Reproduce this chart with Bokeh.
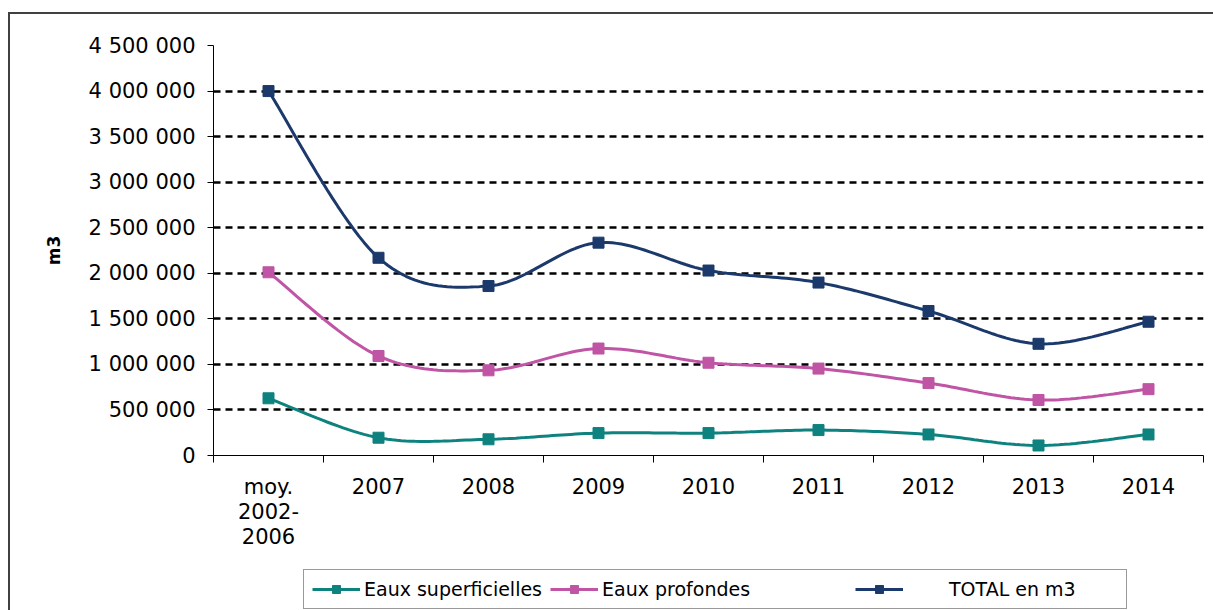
import numpy as np
from bokeh.plotting import figure
from bokeh.layouts import column
from bokeh.models import Range1d, FixedTicker, Legend, LegendItem
from bokeh.embed import file_html
from bokeh.resources import INLINE

# --- data -------------------------------------------------------------
categories = ["moy.\n2002-\n2006", "2007", "2008", "2009", "2010",
              "2011", "2012", "2013", "2014"]
eaux_superficielles = [628000, 195000, 178000, 246000, 246000,
                       279000, 231000, 110000, 231000]
eaux_profondes = [2011000, 1092000, 935000, 1174000, 1018000,
                  954000, 795000, 609000, 728000]
total_m3 = [4000000, 2170000, 1860000, 2336000, 2030000,
            1898000, 1586000, 1226000, 1468000]

y_ticks = [0, 500000, 1000000, 1500000, 2000000, 2500000,
           3000000, 3500000, 4000000, 4500000]
y_tick_labels = ["0", "500 000", "1 000 000", "1 500 000", "2 000 000",
                 "2 500 000", "3 000 000", "3 500 000", "4 000 000",
                 "4 500 000"]

series_names = ["Eaux superficielles", "Eaux profondes", "TOTAL en m3"]
series_colors = ["#0E827F", "#BF55A4", "#1B3A6B"]

FONT = "DejaVu Sans"
NBSP = "\u00a0"
# legend entries are spaced out with non-breaking spaces
legend_labels = [series_names[0],
                 series_names[1] + NBSP * 16,
                 NBSP * 7 + series_names[2] + NBSP * 7]


def smooth_curve(xs, ys, steps=24):
    """Cubic Bezier path through the points (Catmull-Rom control points)."""
    pts = np.column_stack([xs, ys]).astype(float)
    ext = np.vstack([pts[0], pts, pts[-1]])
    parts = []
    n = len(pts)
    for i in range(n - 1):
        p0, p1, p2, p3 = ext[i], ext[i + 1], ext[i + 2], ext[i + 3]
        c1 = p1 + (p2 - p0) / 6.0
        c2 = p2 - (p3 - p1) / 6.0
        t = np.linspace(0, 1, steps, endpoint=(i == n - 2))[:, None]
        seg = ((1 - t) ** 3) * p1 + 3 * ((1 - t) ** 2) * t * c1 \
            + 3 * (1 - t) * (t ** 2) * c2 + (t ** 3) * p2
        parts.append(seg)
    path = np.vstack(parts)
    return path[:, 0], path[:, 1]


x_pos = np.arange(len(categories)) + 0.5

# --- main chart -------------------------------------------------------
p = figure(width=1203, height=551, output_backend="svg", toolbar_location=None,
           x_range=Range1d(0, len(categories)), y_range=Range1d(0, 4500000),
           min_border_left=203, min_border_right=10, min_border_top=31,
           min_border_bottom=110)
p.outline_line_color = None
p.background_fill_color = "white"
p.border_fill_color = "white"

yax = p.yaxis[0]
yax.ticker = FixedTicker(ticks=y_ticks)
yax.major_label_overrides = {t: s for t, s in zip(y_ticks, y_tick_labels)}
yax.axis_line_color = "black"
yax.axis_line_width = 1
yax.major_tick_line_color = "black"
yax.major_tick_out = 6
yax.major_tick_in = 0
yax.minor_tick_line_color = None
yax.major_label_text_font = FONT
yax.major_label_text_font_size = "21px"
yax.major_label_text_color = "black"
yax.major_label_standoff = 12
yax.axis_label = "m3"
yax.axis_label_text_font = FONT
yax.axis_label_text_font_style = "bold"
yax.axis_label_text_font_size = "17px"
yax.axis_label_text_color = "black"
yax.axis_label_standoff = 22

xax = p.xaxis[0]
xax.ticker = FixedTicker(ticks=list(x_pos),
                         minor_ticks=list(range(len(categories) + 1)))
xax.major_label_overrides = {float(x): c for x, c in zip(x_pos, categories)}
xax.axis_line_color = "black"
xax.axis_line_width = 1
xax.major_tick_line_color = None
xax.major_tick_out = 0
xax.major_tick_in = 0
xax.minor_tick_line_color = "black"
xax.minor_tick_out = 7
xax.minor_tick_in = 0
xax.major_label_text_font = FONT
xax.major_label_text_font_size = "21px"
xax.major_label_text_line_height = 1.06
xax.major_label_text_color = "black"
xax.major_label_standoff = 12

p.xgrid.grid_line_color = None
p.ygrid.ticker = FixedTicker(ticks=y_ticks[1:])
p.ygrid.grid_line_color = "black"
p.ygrid.grid_line_width = 2.5
p.ygrid.grid_line_dash = "7 5"

for vals, col in zip([eaux_superficielles, eaux_profondes, total_m3],
                     series_colors):
    sx, sy = smooth_curve(x_pos, vals)
    p.line(sx, sy, line_color=col, line_width=3)
    p.scatter(x_pos, vals, marker="square", size=11,
              fill_color=col, line_color=col)

# --- legend strip -----------------------------------------------------
lg = figure(width=1203, height=45, output_backend="svg", toolbar_location=None,
            x_range=Range1d(0, 1), y_range=Range1d(0, 1),
            x_axis_location=None, y_axis_location=None,
            min_border=0)
lg.outline_line_color = None
lg.grid.visible = False
lg.background_fill_color = "white"
lg.border_fill_color = "white"

items = []
for label, col in zip(legend_labels, series_colors):
    # swatch renderers sit outside the visible range; only the legend shows
    ln = lg.line([-5, -4], [-5, -4], line_color=col, line_width=3)
    mk = lg.scatter([-5], [-5], marker="square", size=11,
                    fill_color=col, line_color=col)
    items.append(LegendItem(label=label, renderers=[ln, mk]))

# the strip's frame lines up with the chart frame (x = 213 on the page)
legend = Legend(items=items, location=(90, 1), orientation="horizontal",
                border_line_color="#333333", border_line_width=1,
                background_fill_color="white", background_fill_alpha=1,
                padding=8, spacing=8, margin=0,
                glyph_width=48, glyph_height=20, label_standoff=4,
                label_text_font=FONT, label_text_font_size="19px",
                label_text_color="black", label_height=20)
lg.add_layout(legend)

page = column(p, lg, spacing=0)
# chart-area frame (top and left edges visible)
page.styles = {"margin-left": "8px", "margin-top": "12px",
               "border-left": "2px solid #404040",
               "border-top": "2px solid #404040"}

open("out.html", "w").write(file_html(page, INLINE))
